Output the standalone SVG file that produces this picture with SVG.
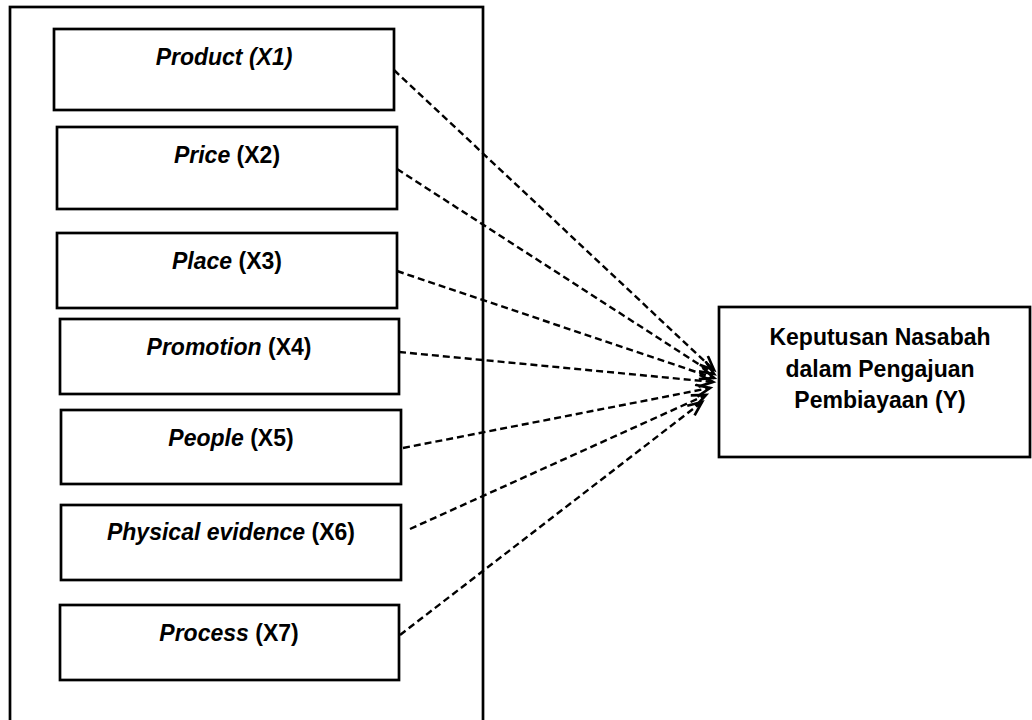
<svg xmlns="http://www.w3.org/2000/svg" width="1032" height="720" viewBox="0 0 1032 720">
<style>
.box{fill:#fff;stroke:#000;stroke-width:2.7}
.t{font-family:"Liberation Sans",Arial,sans-serif;font-weight:bold;font-size:23px;fill:#000;text-anchor:middle}
.i{font-style:italic}
.c{fill:none;stroke:#000;stroke-width:2.4;stroke-dasharray:7 4}
</style>
<defs>
<marker id="arr" markerUnits="userSpaceOnUse" markerWidth="20" markerHeight="20" refX="15" refY="7" orient="auto">
<path d="M1,1 L15,7 L1,13" fill="none" stroke="#000" stroke-width="2.7"/>
</marker>
</defs>
<rect width="1032" height="720" fill="#fff"/>
<g id="frame"><rect x="10" y="7" width="473" height="730" fill="none" stroke="#000" stroke-width="2.7"/></g>
<g id="n1"><rect class="box" x="54" y="29" width="340" height="81"/><text class="t i" x="224" y="65">Product (X1)</text></g>
<g id="n2"><rect class="box" x="57" y="127" width="340" height="82"/><text class="t" x="227" y="163"><tspan class="i">Price</tspan> (X2)</text></g>
<g id="n3"><rect class="box" x="57" y="233" width="340" height="75"/><text class="t" x="227" y="269"><tspan class="i">Place</tspan> (X3)</text></g>
<g id="n4"><rect class="box" x="60" y="319" width="339" height="75"/><text class="t" x="229" y="355"><tspan class="i">Promotion</tspan> (X4)</text></g>
<g id="n5"><rect class="box" x="61" y="410" width="340" height="74"/><text class="t" x="231" y="446"><tspan class="i">People</tspan> (X5)</text></g>
<g id="n6"><rect class="box" x="61" y="505" width="340" height="75"/><text class="t" x="231" y="540"><tspan class="i">Physical evidence</tspan> (X6)</text></g>
<g id="n7"><rect class="box" x="60" y="605" width="339" height="75"/><text class="t" x="229" y="641"><tspan class="i">Process</tspan> (X7)</text></g>
<g id="ny"><rect class="box" x="719" y="307" width="311" height="150"/>
<text class="t" x="880" y="345">Keputusan Nasabah</text>
<text class="t" x="880" y="377">dalam Pengajuan</text>
<text class="t" x="880" y="408">Pembiayaan (Y)</text></g>
<g id="connectors">
<line class="c" x1="394" y1="70" x2="714" y2="370" marker-end="url(#arr)"/>
<line class="c" x1="397" y1="169" x2="714" y2="374" marker-end="url(#arr)"/>
<line class="c" x1="397" y1="271" x2="714" y2="378" marker-end="url(#arr)"/>
<line class="c" x1="399" y1="352" x2="713" y2="382" marker-end="url(#arr)"/>
<line class="c" x1="403" y1="448" x2="710" y2="388" marker-end="url(#arr)"/>
<line class="c" x1="410" y1="529" x2="706" y2="395" marker-end="url(#arr)"/>
<line class="c" x1="400" y1="635" x2="702" y2="402" marker-end="url(#arr)"/>
</g>
</svg>
